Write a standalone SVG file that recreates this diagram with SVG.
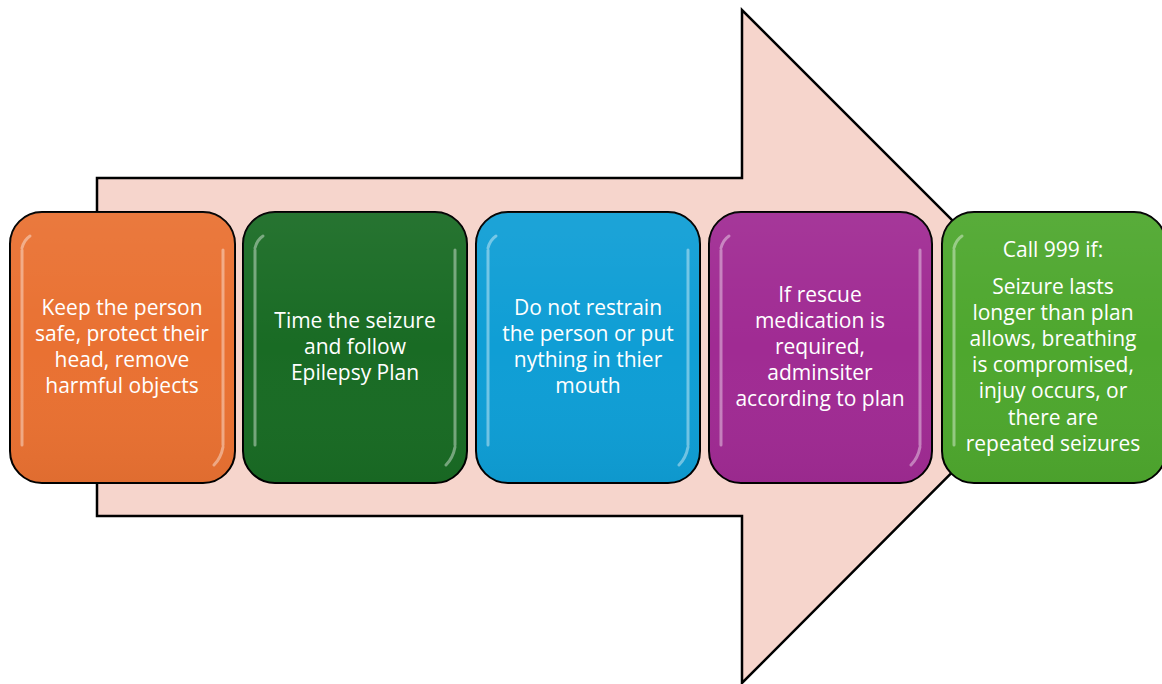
<svg xmlns="http://www.w3.org/2000/svg" width="1162" height="684" viewBox="0 0 1162 684">
<style>
.box{stroke:#000;stroke-width:2}
.gl{fill:none;stroke:#fff;stroke-width:3;stroke-opacity:0.4;stroke-linecap:round}
.t{font-family:"Open Sans","Liberation Sans",sans-serif;font-size:21px;fill:#fff;text-anchor:middle}
</style>
<defs>
<linearGradient id="shade" x1="0" y1="0" x2="0" y2="1">
<stop offset="0" stop-color="#fff" stop-opacity="0.06"/>
<stop offset="0.5" stop-color="#fff" stop-opacity="0"/>
<stop offset="1" stop-color="#000" stop-opacity="0.04"/>
</linearGradient>
</defs>
<g id="arrow">
<polygon points="97,178 742,178 742,10 1078,346 742,683 742,516 97,516" fill="#F6D5CC" stroke="#000" stroke-width="2.5"/>
</g>
<g id="connectors"></g>
<g id="n1">
<rect class="box" x="10" y="212" width="225" height="271" rx="32" fill="#E97132"/>
<rect x="10" y="212" width="225" height="271" rx="32" fill="url(#shade)"/>
<path class="gl" d="M22,250 V445 M30,236 Q24,240 22,248 M223,250 V445 M223,447 Q221,458 214,465"/>
<text class="t"><tspan x="122" y="315">Keep the person</tspan><tspan x="122" y="341">safe, protect their</tspan><tspan x="122" y="367">head, remove</tspan><tspan x="122" y="393">harmful objects</tspan></text>
</g>
<g id="n2">
<rect class="box" x="243" y="212" width="224" height="271" rx="32" fill="#196B24"/>
<rect x="243" y="212" width="224" height="271" rx="32" fill="url(#shade)"/>
<path class="gl" d="M255,250 V445 M263,236 Q257,240 255,248 M455,250 V445 M455,447 Q453,458 446,465"/>
<text class="t"><tspan x="355" y="328">Time the seizure</tspan><tspan x="355" y="354">and follow</tspan><tspan x="355" y="380">Epilepsy Plan</tspan></text>
</g>
<g id="n3">
<rect class="box" x="476" y="212" width="224" height="271" rx="32" fill="#0F9ED5"/>
<rect x="476" y="212" width="224" height="271" rx="32" fill="url(#shade)"/>
<path class="gl" d="M488,250 V445 M496,236 Q490,240 488,248 M688,250 V445 M688,447 Q686,458 679,465"/>
<text class="t"><tspan x="588" y="315">Do not restrain</tspan><tspan x="588" y="341">the person or put</tspan><tspan x="588" y="367">nything in thier</tspan><tspan x="588" y="393">mouth</tspan></text>
</g>
<g id="n4">
<rect class="box" x="709" y="212" width="223" height="271" rx="32" fill="#A02B93"/>
<rect x="709" y="212" width="223" height="271" rx="32" fill="url(#shade)"/>
<path class="gl" d="M721,250 V445 M729,236 Q723,240 721,248 M920,250 V445 M920,447 Q918,458 911,465"/>
<text class="t"><tspan x="820" y="302">If rescue</tspan><tspan x="820" y="328">medication is</tspan><tspan x="820" y="354">required,</tspan><tspan x="820" y="380">adminsiter</tspan><tspan x="820" y="406">according to plan</tspan></text>
</g>
<g id="n5">
<rect class="box" x="942" y="212" width="224" height="271" rx="32" fill="#4EA72E"/>
<rect x="942" y="212" width="224" height="271" rx="32" fill="url(#shade)"/>
<path class="gl" d="M954,250 V445 M962,236 Q956,240 954,248"/>
<text class="t"><tspan x="1053" y="257">Call 999 if:</tspan><tspan x="1053" y="294">Seizure lasts</tspan><tspan x="1053" y="320">longer than plan</tspan><tspan x="1053" y="346">allows, breathing</tspan><tspan x="1053" y="372">is compromised,</tspan><tspan x="1053" y="398">injuy occurs, or</tspan><tspan x="1053" y="425">there are</tspan><tspan x="1053" y="451">repeated seizures</tspan></text>
</g>
</svg>
